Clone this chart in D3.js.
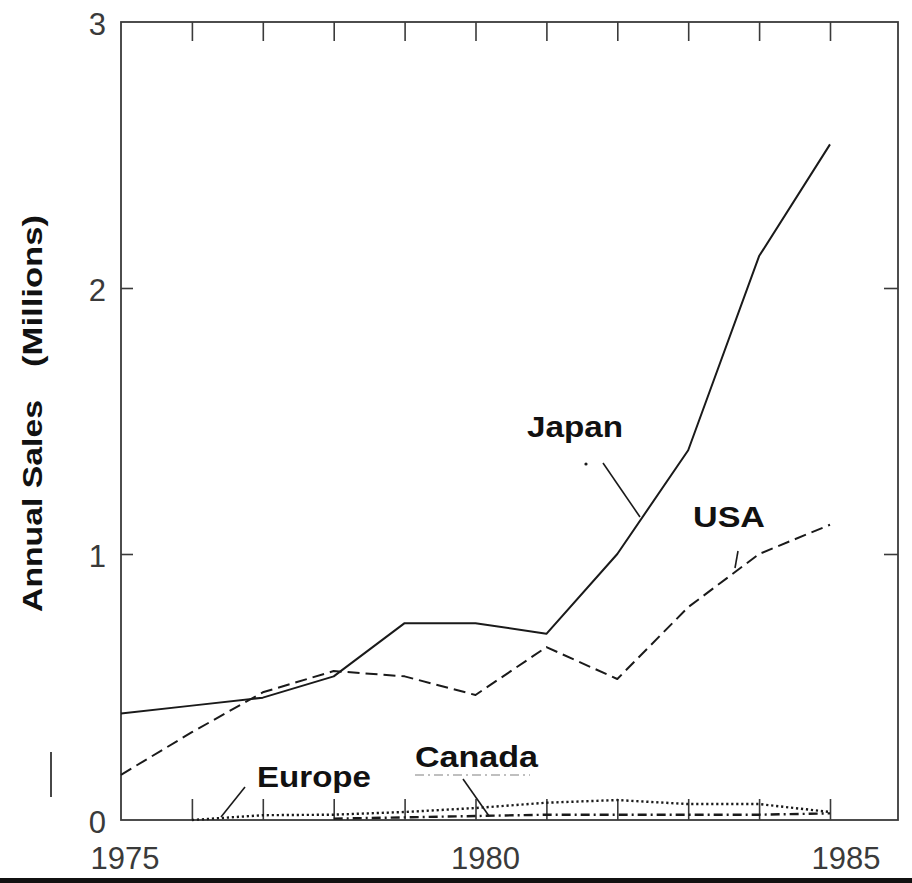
<!DOCTYPE html>
<html>
<head>
<meta charset="utf-8">
<script src="https://cdn.jsdelivr.net/npm/d3@7/dist/d3.min.js"></script>
<style>
  html, body { margin: 0; padding: 0; background: #fff; }
  svg { display: block; }
</style>
</head>
<body>
<svg id="chart" width="912" height="883"></svg>
<script>
// Annual sales by region, 1975-1985 (millions of units)
const years  = [1975, 1976, 1977, 1978, 1979, 1980, 1981, 1982, 1983, 1984, 1985];
const japan  = [0.40, 0.43, 0.46, 0.54, 0.74, 0.74, 0.70, 1.00, 1.39, 2.12, 2.54];
const usa    = [0.17, 0.33, 0.48, 0.56, 0.54, 0.47, 0.65, 0.53, 0.80, 1.00, 1.11];
const europeYears = [1976, 1977, 1978, 1979, 1980, 1981, 1982, 1983, 1984, 1985];
const europe = [0.00, 0.018, 0.02, 0.03, 0.045, 0.065, 0.075, 0.06, 0.06, 0.03];
const canadaYears = [1978, 1979, 1980, 1981, 1982, 1983, 1984, 1985];
const canada = [0.005, 0.01, 0.015, 0.02, 0.02, 0.02, 0.02, 0.025];

const xTickLabels = [1975, 1980, 1985];
const yTickLabels = [0, 1, 2, 3];
const minorYears  = [1976, 1977, 1978, 1979, 1980, 1981, 1982, 1983, 1984, 1985];

const svg = d3.select("#chart");
const plot = { left: 121, right: 898, top: 22, bottom: 820 };

const x = d3.scaleLinear().domain([1975, 1985]).range([plot.left, 830]);
const y = d3.scaleLinear().domain([0, 3]).range([plot.bottom, plot.top]);
// label placement along the year axis
const xLab = d3.scaleLinear().domain([1975, 1985]).range([125, 846]);

const ink = "#1a1a1a";
const frameInk = "#3a3a3a";

// frame
svg.append("rect")
  .attr("x", plot.left).attr("y", plot.top)
  .attr("width", plot.right - plot.left).attr("height", plot.bottom - plot.top)
  .attr("fill", "none").attr("stroke", frameInk).attr("stroke-width", 1.8);

// inward ticks on top and bottom edges
const topAxis = svg.append("g").attr("transform", `translate(0,${plot.top})`)
  .call(d3.axisBottom(x).tickValues(minorYears).tickSize(19).tickFormat(""));
const botAxis = svg.append("g").attr("transform", `translate(0,${plot.bottom})`)
  .call(d3.axisTop(x).tickValues(minorYears).tickSize(21).tickFormat(""));
// inward ticks on left and right edges
const leftAxis = svg.append("g").attr("transform", `translate(${plot.left},0)`)
  .call(d3.axisRight(y).tickValues([1, 2]).tickSize(12).tickFormat(""));
const rightAxis = svg.append("g").attr("transform", `translate(${plot.right},0)`)
  .call(d3.axisLeft(y).tickValues([1, 2]).tickSize(14).tickFormat(""));
[topAxis, botAxis, leftAxis, rightAxis].forEach(g => {
  g.select(".domain").remove();
  g.selectAll(".tick line").attr("stroke", frameInk).attr("stroke-width", 1.6);
});

// tick labels
svg.append("g").selectAll("text").data(xTickLabels).join("text")
  .attr("x", d => xLab(d)).attr("y", 869)
  .attr("text-anchor", "middle")
  .attr("font-family", "Liberation Sans, Arial, sans-serif")
  .attr("font-size", 31).attr("fill", "#3a3a3a")
  .text(d => d);

svg.append("g").selectAll("text").data(yTickLabels).join("text")
  .attr("x", 106).attr("y", d => y(d) + 13)
  .attr("text-anchor", "end")
  .attr("font-family", "Liberation Sans, Arial, sans-serif")
  .attr("font-size", 31).attr("fill", "#3a3a3a")
  .text(d => d);

// y-axis title
const titleFont = "Liberation Sans, Arial, sans-serif";
svg.append("text")
  .attr("transform", "translate(42,612) rotate(-90)")
  .attr("font-family", titleFont).attr("font-weight", "bold")
  .attr("font-size", 28).attr("fill", "#111")
  .attr("textLength", 212).attr("lengthAdjust", "spacingAndGlyphs")
  .text("Annual Sales");
svg.append("text")
  .attr("transform", "translate(42,367) rotate(-90)")
  .attr("font-family", titleFont).attr("font-weight", "bold")
  .attr("font-size", 28).attr("fill", "#111")
  .attr("textLength", 152).attr("lengthAdjust", "spacingAndGlyphs")
  .text("(Millions)");

// series lines
const line = d3.line().x(d => x(d[0])).y(d => y(d[1]));
const series = [
  { pts: d3.zip(years, japan),        dash: null,      w: 2.0 },
  { pts: d3.zip(years, usa),          dash: "12,6",    w: 2.0 },
  { pts: d3.zip(europeYears, europe), dash: "2.2,2.8", w: 2.4 },
  { pts: d3.zip(canadaYears, canada), dash: "9,4,2,4", w: 2.4 }
];
svg.append("g").selectAll("path").data(series).join("path")
  .attr("d", d => line(d.pts))
  .attr("fill", "none")
  .attr("stroke", ink)
  .attr("stroke-width", d => d.w)
  .attr("stroke-dasharray", d => d.dash)
  .attr("stroke-linejoin", "round");

// series labels with leader lines
const labels = [
  { text: "Japan",  x: 527, y: 437, len: 96 },
  { text: "USA",    x: 693, y: 527, len: 72 },
  { text: "Europe", x: 257, y: 787, len: 114 },
  { text: "Canada", x: 415, y: 767, len: 123 }
];
svg.append("g").selectAll("text").data(labels).join("text")
  .attr("x", d => d.x).attr("y", d => d.y)
  .attr("font-family", titleFont).attr("font-weight", "bold")
  .attr("font-size", 30).attr("fill", "#111")
  .attr("textLength", d => d.len).attr("lengthAdjust", "spacingAndGlyphs")
  .text(d => d.text);

const leaders = [
  [603, 463, 640, 517],
  [738, 551, 735, 568],
  [245, 787, 221, 817],
  [463, 779, 489, 816]
];
svg.append("g").selectAll("line").data(leaders).join("line")
  .attr("x1", d => d[0]).attr("y1", d => d[1])
  .attr("x2", d => d[2]).attr("y2", d => d[3])
  .attr("stroke", ink).attr("stroke-width", 1.6);

svg.append("circle").attr("cx", 586).attr("cy", 464).attr("r", 1.6).attr("fill", ink);

// style sample under the Canada label
svg.append("line")
  .attr("x1", 415).attr("y1", 775).attr("x2", 530).attr("y2", 775)
  .attr("stroke", "#aaa").attr("stroke-width", 1.5)
  .attr("stroke-dasharray", "9,4,2,4");

// stray margin mark and bottom rule
svg.append("line")
  .attr("x1", 51).attr("y1", 752).attr("x2", 51).attr("y2", 797)
  .attr("stroke", "#333").attr("stroke-width", 1.8);
svg.append("rect")
  .attr("x", 0).attr("y", 878).attr("width", 912).attr("height", 5)
  .attr("fill", "#111");
</script>
</body>
</html>
